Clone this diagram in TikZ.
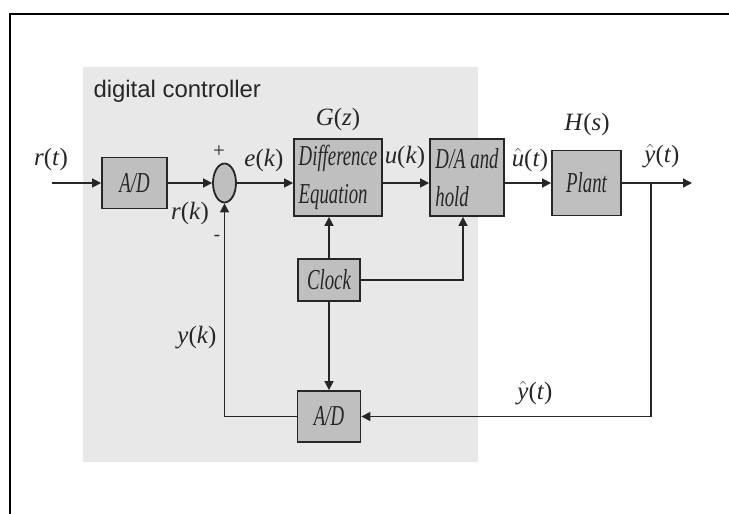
\documentclass[tikz,border=0pt]{standalone}
\usepackage{fontspec}
\setmainfont{Liberation Serif}
\newfontfamily\boxfont{Liberation Serif}[FakeStretch=0.65]
\newfontfamily\sansfont{Liberation Sans}
\usetikzlibrary{arrows.meta, positioning, calc, shapes.geometric}

\begin{document}
\begin{tikzpicture}[x=1bp, y=-1bp,
  every node/.style={text=black!85, font=\fontsize{29}{38}\boxfont\itshape},
  blk/.style={draw=black!85, line width=1.8bp, fill=gray!50, inner sep=0pt},
  sig/.style={inner sep=0.5bp, font=\fontsize{25}{28}\selectfont},
  wire/.style={draw=black!85, line width=1.6bp},
  arr/.style={wire, -{Triangle[length=9bp,width=9bp]}}]
  \useasboundingbox (0,0) rectangle (729,514);
  % frame and controller area
  \draw[line width=2.5bp] (10,514) -- (10,14) -- (729,14);
  \fill[gray!18] (83,67) rectangle (478,462);
  \node[anchor=west, font=\fontsize{24}{28}\sansfont] (dctl) at (90,91) {digital controller};

  % blocks
  \node[blk, minimum width=65bp, minimum height=51bp] (adin) at (134.5,183) {A/D};
  \node[blk, ellipse, minimum width=23bp, minimum height=39bp] (sum) at (224.5,183) {};
  \node[blk, minimum width=88bp, minimum height=77bp, align=left] (diff) at (338,177.5) {Difference\\Equation};
  \node[blk, minimum width=74bp, minimum height=77bp, align=left] (dah) at (467,177.5) {D/A and\\hold};
  \node[blk, minimum width=69bp, minimum height=65bp] (plant) at (586.5,183) {Plant};
  \node[blk, minimum width=62bp, minimum height=42bp] (clock) at (329,280) {Clock};
  \node[blk, minimum width=63bp, minimum height=51bp] (adout) at (329,416.5) {A/D};

  % signals
  \coordinate (in) at (52,183);
  \coordinate (tap) at (651,183);
  \coordinate (out) at (692,183);
  \draw[arr] (in) -- (adin);
  \draw[arr] (adin) -- (sum);
  \draw[arr] (sum.east) -- (sum.east -| diff.west);
  \draw[arr] (diff.east |- sum) -- (dah.west |- sum);
  \draw[arr] (dah.east |- sum) -- (plant.west);
  \draw[arr] (plant) -- (out);
  \draw[arr] (tap) |- (adout);
  \draw[arr] (adout) -| (sum);
  \draw[arr] (clock) -- (clock |- diff.south);
  \draw[arr] (clock) -- (adout);
  \draw[arr] (clock) -| ([xshift=-4bp]dah.south);

  % labels
  \node[sig] (lrt) at (51,160) {\textit{r}(\textit{t})};
  \node[sig] (lrk) at (190,214) {\textit{r}(\textit{k})};
  \node[font=\fontsize{21}{23}\selectfont] (lplus) at (219,152) {+};
  \node[font=\fontsize{19}{21}\selectfont] (lminus) at (217,238) {-};
  \node[sig] (lek) at (264,161) {\textit{e}(\textit{k})};
  \node[sig] (lgz) at (338,120) {\textit{G}(\textit{z})};
  \node[sig] (luk) at (405,158) {\textit{u}(\textit{k})};
  \node[sig] (lut) at (530,160) {$\hat{\mbox{\itshape u}}$(\textit{t})};
  \node[sig] (lhs) at (587,125) {\textit{H}(\textit{s})};
  \node[sig] (lyt) at (662,156) {$\hat{\mbox{\itshape y}}$(\textit{t})};
  \node[sig] (lyk) at (197,338) {\textit{y}(\textit{k})};
  \node[sig] (lyf) at (535,393) {$\hat{\mbox{\itshape y}}$(\textit{t})};
\end{tikzpicture}
\end{document}
